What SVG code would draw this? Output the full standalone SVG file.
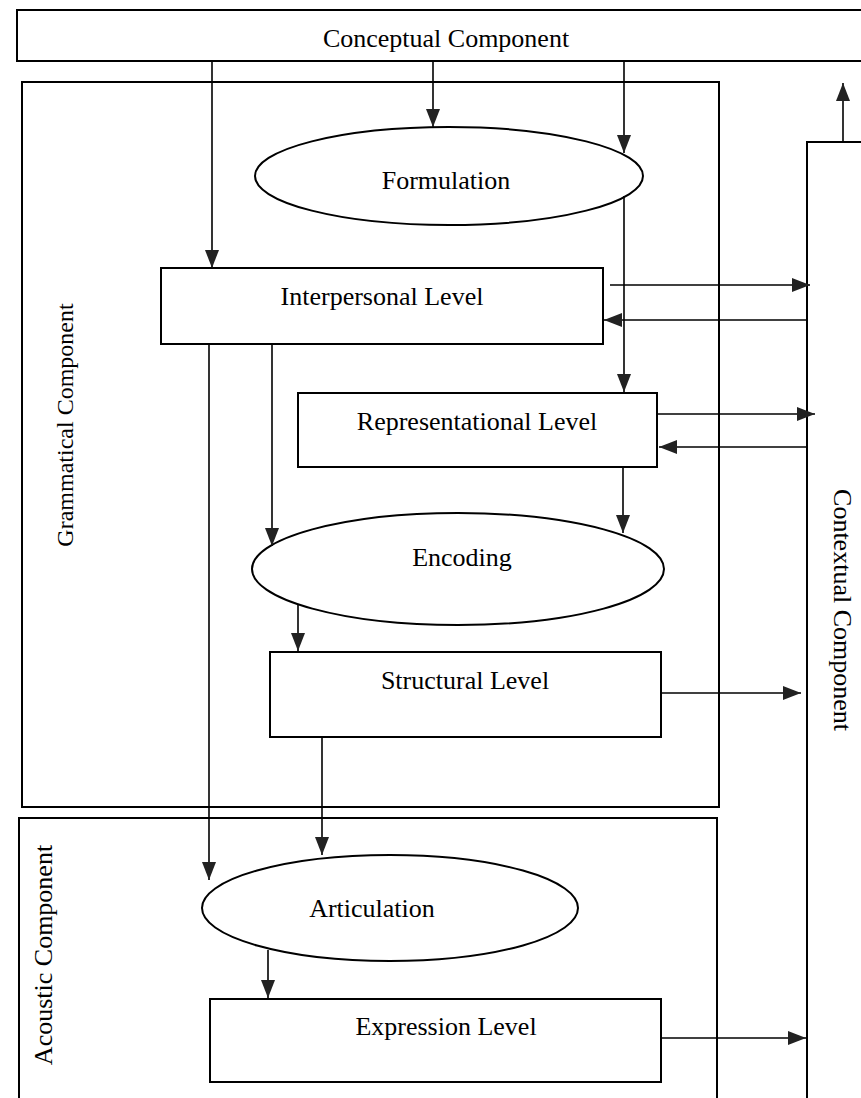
<svg xmlns="http://www.w3.org/2000/svg" width="861" height="1098" viewBox="0 0 861 1098">
<style>
.box{fill:#fff;stroke:#000;stroke-width:2}
.frame{fill:none;stroke:#000;stroke-width:2}
.lbl{font-family:"Liberation Serif","Times New Roman",serif;font-size:26px;fill:#000;text-anchor:middle}
.side{font-size:24px}
.con{fill:none;stroke:#000;stroke-width:1.6}
</style>
<defs>
<marker id="ah" viewBox="0 0 18 14" markerWidth="18" markerHeight="14" refX="18" refY="7" orient="auto" markerUnits="userSpaceOnUse">
<path d="M0,0 L18,7 L0,14 z" fill="#222"/>
</marker>
</defs>
<rect width="861" height="1098" fill="#fff"/>

<g id="conceptual">
<rect class="box" x="17" y="10" width="900" height="51"/>
<text class="lbl" x="446" y="47">Conceptual Component</text>
</g>

<g id="contextual">
<rect class="box" x="807" y="142" width="100" height="1000"/>
<text class="lbl" transform="translate(834,610) rotate(90)">Contextual Component</text>
</g>

<g id="grammatical">
<rect class="frame" x="22" y="82" width="697" height="725"/>
<text class="lbl side" transform="translate(73,425) rotate(-90)">Grammatical Component</text>
</g>

<g id="acoustic">
<rect class="frame" x="19" y="818" width="698" height="300"/>
<text class="lbl" transform="translate(52,955) rotate(-90)">Acoustic Component</text>
</g>

<g id="formulation">
<ellipse class="box" cx="449" cy="176" rx="194" ry="49"/>
<text class="lbl" x="446" y="189">Formulation</text>
</g>

<g id="interpersonal">
<rect class="box" x="161" y="268" width="442" height="76"/>
<text class="lbl" x="382" y="305">Interpersonal Level</text>
</g>

<g id="representational">
<rect class="box" x="298" y="393" width="359" height="74"/>
<text class="lbl" x="477" y="430">Representational Level</text>
</g>

<g id="encoding">
<ellipse class="box" cx="458" cy="569" rx="206" ry="56"/>
<text class="lbl" x="462" y="566">Encoding</text>
</g>

<g id="structural">
<rect class="box" x="270" y="652" width="391" height="85"/>
<text class="lbl" x="465" y="689">Structural Level</text>
</g>

<g id="articulation">
<ellipse class="box" cx="390" cy="908" rx="188" ry="53"/>
<text class="lbl" x="372" y="917">Articulation</text>
</g>

<g id="expression">
<rect class="box" x="210" y="999" width="451" height="83"/>
<text class="lbl" x="446" y="1035">Expression Level</text>
</g>

<g id="connectors">
<path class="con" d="M212,61 V268" marker-end="url(#ah)"/>
<path class="con" d="M433,61 V127" marker-end="url(#ah)"/>
<path class="con" d="M624,61 V153" marker-end="url(#ah)"/>
<path class="con" d="M624,196 V392" marker-end="url(#ah)"/>
<path class="con" d="M610,285 H810" marker-end="url(#ah)"/>
<path class="con" d="M807,320 H604" marker-end="url(#ah)"/>
<path class="con" d="M658,414 H815" marker-end="url(#ah)"/>
<path class="con" d="M807,447 H659" marker-end="url(#ah)"/>
<path class="con" d="M623,467 V533" marker-end="url(#ah)"/>
<path class="con" d="M272,344 V546" marker-end="url(#ah)"/>
<path class="con" d="M298,604 V651" marker-end="url(#ah)"/>
<path class="con" d="M661,693 H801" marker-end="url(#ah)"/>
<path class="con" d="M209,344 V880" marker-end="url(#ah)"/>
<path class="con" d="M322,737 V855" marker-end="url(#ah)"/>
<path class="con" d="M268,950 V998" marker-end="url(#ah)"/>
<path class="con" d="M661,1038 H806" marker-end="url(#ah)"/>
<path class="con" d="M843,142 V83" marker-end="url(#ah)"/>
</g>
</svg>
